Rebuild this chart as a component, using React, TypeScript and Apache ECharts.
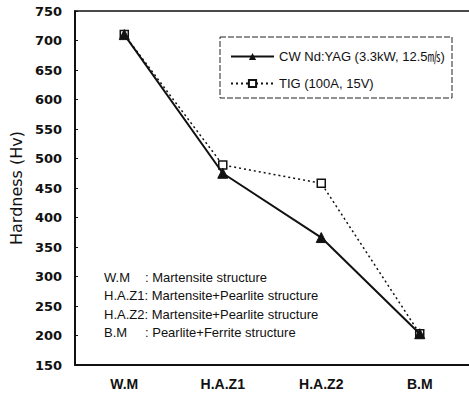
import React, { useEffect, useRef } from "react";
import * as echarts from "echarts";

const categories = ["W.M", "H.A.Z1", "H.A.Z2", "B.M"];
const cwValues = [710, 475, 366, 203];
const tigValues = [710, 489, 458, 203];
const yTicks = { min: 150, max: 750, interval: 50 };
const seriesNames = ["CW Nd:YAG (3.3kW, 12.5㎧)", "TIG (100A, 15V)"];
const noteLabels = ["W.M", "H.A.Z1", "H.A.Z2", "B.M"];
const noteTexts = [
  ": Martensite structure",
  ": Martensite+Pearlite structure",
  ": Martensite+Pearlite structure",
  ": Pearlite+Ferrite structure",
];

const FONT = "'Liberation Sans', Arial, Helvetica, 'Noto Sans CJK KR', sans-serif";
const WIDE = "'DejaVu Sans', 'Liberation Sans', sans-serif";

export default function App() {
  const ref = useRef<HTMLDivElement>(null);
  useEffect(() => {
    document.body.style.margin = "0";
    const chart = echarts.init(ref.current!, undefined, { renderer: "svg" });
    const noteGraphics: any[] = [];
    noteLabels.forEach((lab, i) => {
      const y = 277 + i * 18.5;
      const short = lab.length <= 3;
      noteGraphics.push({
        type: "text",
        x: 104,
        y,
        style: {
          text: short ? lab : lab + noteTexts[i],
          font: `13px ${FONT}`,
          fill: "#111",
          textVerticalAlign: "middle",
        },
      });
      if (short) {
        noteGraphics.push({
          type: "text",
          x: 145,
          y,
          style: {
            text: noteTexts[i],
            font: `13px ${FONT}`,
            fill: "#111",
            textVerticalAlign: "middle",
          },
        });
      }
    });
    chart.setOption({
      animation: false,
      backgroundColor: "#fff",
      grid: { left: 73, right: 0, top: 11, bottom: 30, containLabel: false },
      legend: {
        orient: "vertical",
        left: 225,
        top: 45,
        itemWidth: 43,
        itemHeight: 9,
        itemGap: 14,
        data: seriesNames,
        textStyle: { fontFamily: FONT, fontSize: 13, color: "#111" },
      },
      xAxis: [
        {
          type: "category",
          data: categories,
          boundaryGap: true,
          axisLine: { lineStyle: { color: "#111", width: 2 } },
          axisTick: { inside: true, length: 4, lineStyle: { color: "#111" } },
          axisLabel: {
            margin: 12,
            fontFamily: FONT,
            fontSize: 14,
            fontWeight: "bold",
            color: "#111",
          },
          splitLine: { show: false },
        },
        {
          type: "category",
          data: categories,
          position: "top",
          axisLine: { lineStyle: { color: "#111", width: 1.5 } },
          axisTick: { show: false },
          axisLabel: { show: false },
        },
      ],
      yAxis: {
        type: "value",
        min: yTicks.min,
        max: yTicks.max,
        interval: yTicks.interval,
        name: "Hardness (Hv)",
        nameLocation: "middle",
        nameGap: 51,
        nameTextStyle: { fontFamily: WIDE, fontSize: 16, color: "#111" },
        axisLine: { show: true, lineStyle: { color: "#111", width: 2 } },
        axisTick: { show: true, inside: true, length: 3, lineStyle: { color: "#111" } },
        axisLabel: {
          margin: 13,
          fontFamily: WIDE,
          fontSize: 13,
          fontWeight: "bold",
          color: "#111",
        },
        splitLine: { show: false },
      },
      graphic: [
        {
          type: "rect",
          shape: { x: 220, y: 37, width: 232, height: 61 },
          style: { fill: "none", stroke: "#222", lineWidth: 1, lineDash: [6, 2] },
          z: 10,
        },
        ...noteGraphics,
      ],
      series: [
        {
          name: seriesNames[1],
          type: "line",
          data: tigValues,
          symbol: "rect",
          symbolSize: 8,
          lineStyle: { color: "#111", width: 1.5, type: [2, 3] },
          itemStyle: { color: "#fff", borderColor: "#111", borderWidth: 1.5 },
          z: 2,
        },
        {
          name: seriesNames[0],
          type: "line",
          data: cwValues,
          symbol: "triangle",
          symbolSize: 10,
          lineStyle: { color: "#111", width: 2 },
          itemStyle: { color: "#111", borderColor: "#111" },
          z: 3,
        },
      ],
    });
    return () => chart.dispose();
  }, []);
  return (
    <div
      ref={ref}
      style={{ position: "fixed", left: 0, top: 0, width: 469, height: 395 }}
    />
  );
}
